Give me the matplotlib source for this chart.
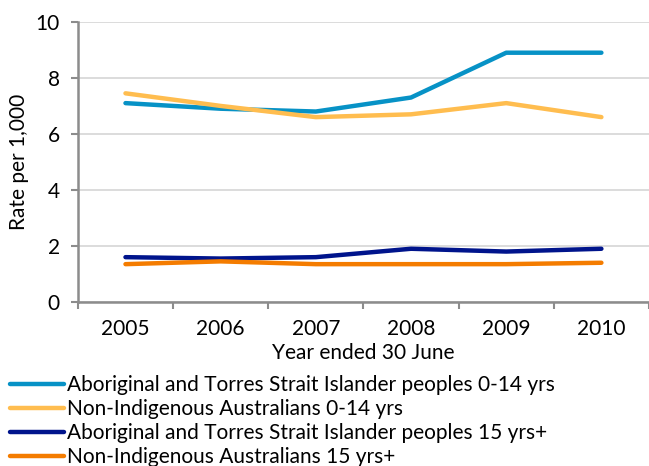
import matplotlib.pyplot as plt
import numpy as np

years = ["2005", "2006", "2007", "2008", "2009", "2010"]
indig_0_14 = [7.1, 6.9, 6.8, 7.3, 8.9, 8.9]
nonindig_0_14 = [7.45, 7.0, 6.6, 6.7, 7.1, 6.6]
indig_15 = [1.6, 1.55, 1.6, 1.9, 1.8, 1.9]
nonindig_15 = [1.35, 1.45, 1.35, 1.35, 1.35, 1.4]

labels = ["Aboriginal and Torres Strait Islander peoples 0-14 yrs",
          "Non-Indigenous Australians 0-14 yrs",
          "Aboriginal and Torres Strait Islander peoples 15 yrs+",
          "Non-Indigenous Australians 15 yrs+"]
colors = ["#0792c6", "#ffbd4f", "#00148c", "#f47c00"]

plt.rcParams['font.family'] = ['Lato', 'DejaVu Sans']
fs = 15

fig = plt.figure(figsize=(6.49, 4.66), dpi=100)
ax = fig.add_axes([0.12, 0.352, 0.88, 0.601])

x = np.arange(len(years))
series = [indig_0_14, nonindig_0_14, indig_15, nonindig_15]
for vals, lab, col in zip(series, labels, colors):
    ax.plot(x, vals, color=col, lw=3.2, label=lab, solid_capstyle='round')

ax.set_xlim(-0.5, len(years) - 0.5)
ax.set_ylim(0, 10)
ax.set_yticks([0, 2, 4, 6, 8, 10])
ax.yaxis.grid(True, color="#d9d9d9", lw=1.3)
ax.set_axisbelow(True)

# category axis: ticks at boundaries, labels in between
ax.set_xticks(np.arange(-0.5, len(years), 1.0))
ax.set_xticklabels([])
ax.set_xticks(x, minor=True)
ax.set_xticklabels(years, minor=True)
ax.tick_params(axis='x', which='minor', length=0, pad=12, labelsize=fs)
ax.tick_params(axis='x', which='major', length=5, width=1.5, color="#8c8c8c")
ax.tick_params(axis='y', length=5, width=1.5, color="#8c8c8c", labelsize=fs, pad=8)

for s in ["top", "right"]:
    ax.spines[s].set_visible(False)
for s in ["left", "bottom"]:
    ax.spines[s].set_color("#8c8c8c")
    ax.spines[s].set_linewidth(1.8)

ax.set_ylabel("Rate per 1,000", fontsize=fs, labelpad=5)
ax.set_xlabel("Year ended 30 June", fontsize=fs, labelpad=3)

fig.legend(loc="upper left", bbox_to_anchor=(0.006, 0.208), frameon=False,
           fontsize=fs, handlelength=2.6, handletextpad=0.15,
           labelspacing=0.19, borderaxespad=0, borderpad=0.3)

fig.savefig("out.png", dpi=100)
